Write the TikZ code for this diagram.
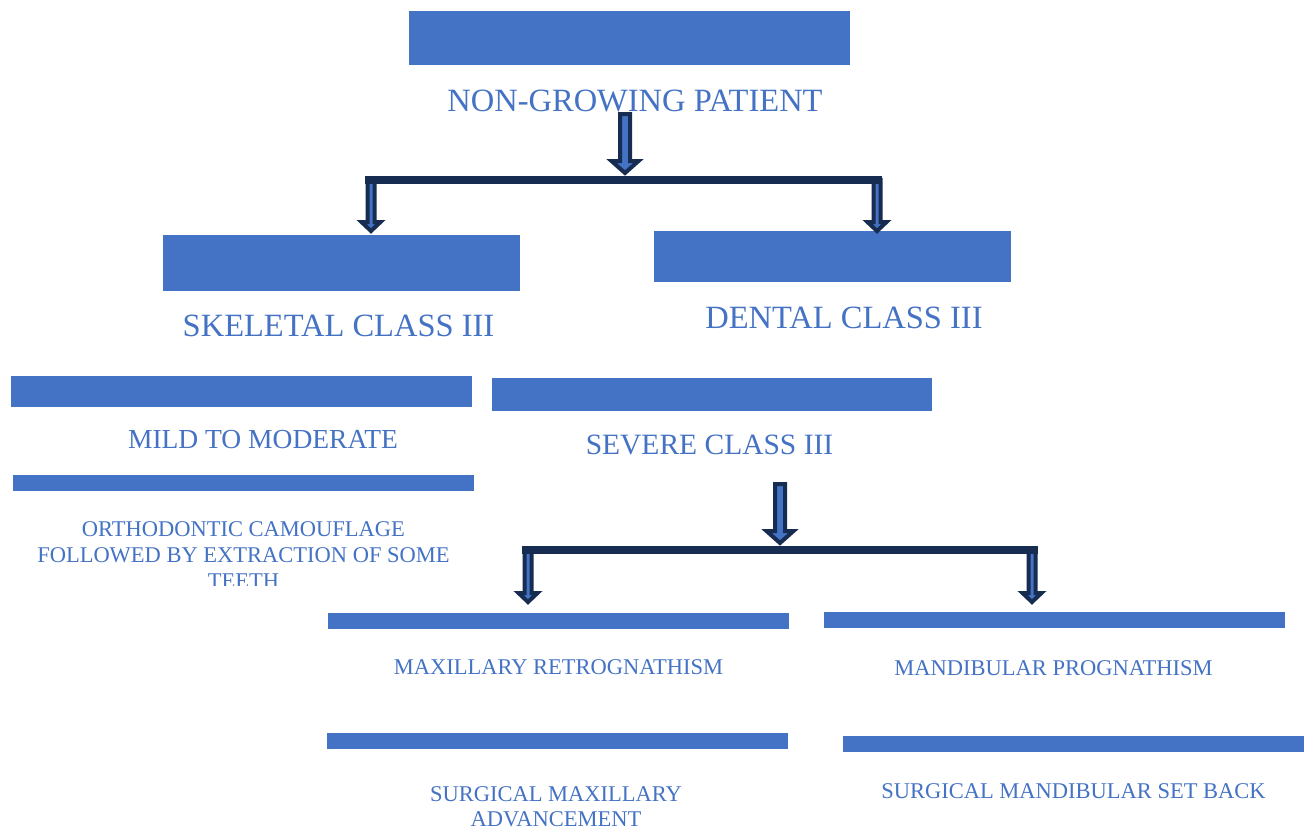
\documentclass[tikz,border=0pt]{standalone}
\usepackage{fontspec}
\setmainfont{Liberation Serif}
\definecolor{barblue}{HTML}{4472C4}
\definecolor{navy}{HTML}{172C51}
\newcommand{\blockarrow}[7]{% name, x, top, tip, shaft half, head half, head length
  \filldraw[blockarr] ({#2-#5},#3) -- ({#2+#5},#3) -- ({#2+#5},{#4-#7}) -- ({#2+#6},{#4-#7})
    -- (#2,#4) coordinate (#1) -- ({#2-#6},{#4-#7}) -- ({#2-#5},{#4-#7}) -- cycle;}
\begin{document}
\begin{tikzpicture}[x=1pt,y=-1pt,
  bar/.style={fill=barblue,draw=none,inner sep=0pt,anchor=north west},
  lbl/.style={text=barblue,inner sep=0pt,anchor=base,align=center},
  big/.style={font=\fontsize{32.5}{39}\selectfont},
  mid/.style={font=\fontsize{27.5}{33}\selectfont},
  sml/.style={font=\fontsize{22.5}{26}\selectfont},
  blockarr/.style={fill=barblue,draw=navy,line width=4pt,line join=miter},
  hbar/.style={fill=navy,draw=none}]
\useasboundingbox (0,0) rectangle (1307,833);
\fill[white] (0,0) rectangle (1307,833);

% bars
\node[bar,minimum width=441pt,minimum height=54pt] (b1) at (409,11) {};
\node[bar,minimum width=357pt,minimum height=56pt] (b2) at (163,235) {};
\node[bar,minimum width=357pt,minimum height=51pt] (b3) at (654,231) {};
\node[bar,minimum width=461pt,minimum height=31pt] (b4) at (11,376) {};
\node[bar,minimum width=440pt,minimum height=33pt] (b5) at (492,378) {};
\node[bar,minimum width=461pt,minimum height=16pt] (b6) at (13,475) {};
\node[bar,minimum width=461pt,minimum height=16pt] (b7) at (328,613) {};
\node[bar,minimum width=461pt,minimum height=16pt] (b8) at (824,612) {};
\node[bar,minimum width=461pt,minimum height=16pt] (b9) at (327,733) {};
\node[bar,minimum width=461pt,minimum height=16pt] (b10) at (843,736) {};

% labels
\node[lbl,big] (t1) at (635,111) {NON-GROWING PATIENT};
\node[lbl,big] (t2) at (338.5,336) {SKELETAL CLASS III};
\node[lbl,big] (t3) at (844,328) {DENTAL CLASS III};
\node[lbl,mid] (t4) at (263,448) {MILD TO MODERATE};
\node[lbl,font=\fontsize{29.5}{35}\selectfont] (t5) at (709.5,454) {SEVERE CLASS III};
\begin{scope}
  \clip (0,495) rectangle (480,585.5);
  \node[lbl,sml] (t6) at (243.5,588) {ORTHODONTIC CAMOUFLAGE\\FOLLOWED BY EXTRACTION OF SOME\\TEETH};
\end{scope}
\node[lbl,sml] (t7) at (558.5,674) {MAXILLARY RETROGNATHISM};
\node[lbl,sml] (t8) at (1053.5,675) {MANDIBULAR PROGNATHISM};
\node[lbl,font=\fontsize{22.5}{25}\selectfont] (t9) at (556,826) {SURGICAL MAXILLARY\\ADVANCEMENT};
\node[lbl,sml] (t10) at (1073.5,798) {SURGICAL MANDIBULAR SET BACK};

% group 1 connectors
\blockarrow{a1}{371}{180}{231}{3.5}{9.5}{9}
\blockarrow{a2}{877}{180}{231}{3.5}{9.5}{9}
\fill[hbar] (365,175.5) rectangle (882,184);
\blockarrow{a0}{625}{114}{173}{5}{13.5}{12}

% group 2 connectors
\blockarrow{c1}{528}{550}{602}{3.5}{9.5}{9}
\blockarrow{c2}{1032}{550}{602}{3.5}{9.5}{9}
\fill[hbar] (522,545.5) rectangle (1038,554);
\blockarrow{c0}{780}{484}{543}{5}{13.5}{12}
\end{tikzpicture}
\end{document}
